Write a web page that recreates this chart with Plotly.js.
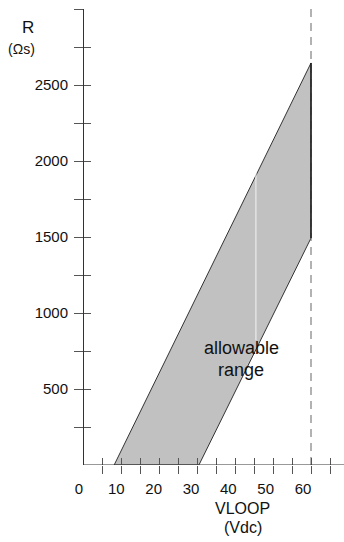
<!DOCTYPE html>
<html><head><meta charset="utf-8">
<script src="https://cdn.plot.ly/plotly-3.0.1.min.js"></script>
<style>html,body{margin:0;padding:0;background:#fff}#chart{width:344px;height:542px}</style>
</head><body><div id="chart"></div>
<script>
// Allowable range region (VLOOP in Vdc, R in ohms)
const upperV = [8.2, 60];
const upperR = [0, 2645];
const lowerV = [30.5, 60];
const lowerR = [0, 1493];
const maxLoopV = 60;
const rAxisMax = 3000;
const artifactV = [45.5, 45.5];
const artifactR = [1920, 820];
const xTickVals = [5,10,15,20,25,30,35,40,45,50,55,60,65];
const xLabelVals = [0,10,20,30,40,50,60];
const xLabelText = ['0','10','20','30','40','50','60'];
const yTickVals = [250,500,750,1000,1250,1500,1750,2000,2250,2500,2750,3000];
const yTickText = ['','500','','1000','','1500','','2000','','2500','',''];

const font = {family:'Liberation Sans, Arial, sans-serif', size:15, color:'#111'};
const polyV = [upperV[0], upperV[1], lowerV[1], lowerV[0], upperV[0]];
const polyR = [upperR[0], upperR[1], lowerR[1], lowerR[0], upperR[0]];
const nohover = {hoverinfo:'skip', showlegend:false};

const traces = [
  Object.assign({x: polyV, y: polyR, type:'scatter', mode:'lines', fill:'toself',
   fillcolor:'#c3c3c3',
   fillpattern:{shape:'.', size:2, solidity:0.5, fgcolor:'#a6a6a6', bgcolor:'#d6d6d6', fillmode:'replace'},
   line:{color:'#333', width:1}}, nohover),
  Object.assign({x: artifactV, y: artifactR, type:'scatter', mode:'lines',
   line:{color:'#f4f4f4', width:1}}, nohover),
  Object.assign({x: [maxLoopV, maxLoopV], y: [0, rAxisMax], type:'scatter', mode:'lines',
   line:{color:'#666', width:1, dash:'8px,6px'}}, nohover),
  Object.assign({x: [maxLoopV, maxLoopV], y: [lowerR[1], upperR[1]], type:'scatter', mode:'lines',
   line:{color:'#111', width:1.3}}, nohover),
  Object.assign({x:[30], y:[1000], xaxis:'x2', type:'scatter', mode:'markers', marker:{opacity:0}}, nohover),
  Object.assign({x:[30], y:[1000], xaxis:'x3', type:'scatter', mode:'markers', marker:{opacity:0}}, nohover),
  Object.assign({x:[30], y:[1000], yaxis:'y2', type:'scatter', mode:'markers', marker:{opacity:0}}, nohover)
];

const xRange = [-2.105, 68.68];
const yPos = 8/269;
const layout = {
  width:344, height:542,
  margin:{l:75, r:0, t:9, b:77},
  paper_bgcolor:'#fff', plot_bgcolor:'rgba(0,0,0,0)',
  font: font,
  showlegend:false,
  xaxis:{range:xRange, tickvals:xTickVals, ticks:'outside', ticklen:8,
         tickcolor:'#555', tickwidth:1, showticklabels:false, showgrid:false, zeroline:false,
         showline:false, fixedrange:true},
  xaxis3:{overlaying:'x', range:xRange, tickvals:xTickVals, ticks:'inside', ticklen:7,
         tickcolor:'#555', tickwidth:1, showticklabels:false, showgrid:false, zeroline:false,
         showline:false, anchor:'y'},
  xaxis2:{overlaying:'x', anchor:'y', range:[-1.071, 70.98], tickvals:xLabelVals, ticktext:xLabelText,
         ticks:'', showline:false, showgrid:false, zeroline:false, ticklabelstandoff:13,
         tickfont:font},
  yaxis:{range:[0,rAxisMax], tickvals:yTickVals, ticktext:yTickText, ticks:'outside', ticklen:9,
         tickcolor:'#555', tickwidth:1, showgrid:false, zeroline:false, showline:true,
         linecolor:'#333', linewidth:1, tickfont:font, ticklabelstandoff:3, anchor:'free', position:yPos},
  yaxis2:{overlaying:'y', range:[0,rAxisMax], tickvals:yTickVals, ticks:'inside', ticklen:7,
         tickcolor:'#555', tickwidth:1, showticklabels:false, showgrid:false, zeroline:false,
         showline:false, anchor:'free', position:yPos},
  shapes:[
    {type:'line', xref:'x', yref:'y', x0:0, x1:xRange[1], y0:0, y1:0, line:{color:'#333', width:1}}
  ],
  annotations:[
    {text:'R', xref:'paper', yref:'paper', x:-0.1747, y:0.9605, showarrow:false,
     xanchor:'center', yanchor:'middle', font:{family:font.family, size:17, color:'#111'}},
    {text:'(Ωs)', xref:'paper', yref:'paper', x:-0.2007, y:0.9123, showarrow:false,
     xanchor:'center', yanchor:'middle', font:{family:font.family, size:14, color:'#111'}},
    {text:'allowable', xref:'x', yref:'y', x:41.6, y:770, showarrow:false,
     xanchor:'center', yanchor:'middle', font:{family:font.family, size:18, color:'#111'}},
    {text:'range', xref:'x', yref:'y', x:41.6, y:625, showarrow:false,
     xanchor:'center', yanchor:'middle', font:{family:font.family, size:18, color:'#111'}},
    {text:'VLOOP', xref:'paper', yref:'paper', x:0.6245, y:-0.0943, showarrow:false,
     xanchor:'center', yanchor:'middle', font:{family:font.family, size:16, color:'#111'}},
    {text:'(Vdc)', xref:'paper', yref:'paper', x:0.6245, y:-0.138, showarrow:false,
     xanchor:'center', yanchor:'middle', font:{family:font.family, size:16, color:'#111'}}
  ]
};
Plotly.newPlot('chart', traces, layout, {staticPlot:true, displayModeBar:false});
</script></body></html>
